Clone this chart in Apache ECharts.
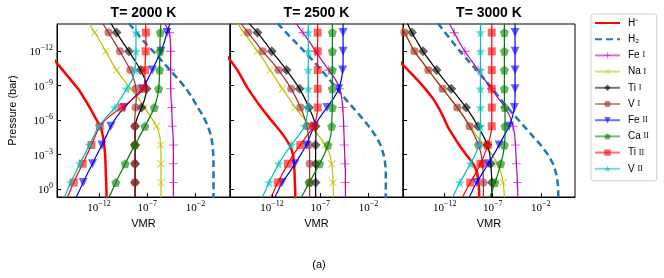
<!DOCTYPE html>
<html>
<head>
<meta charset="utf-8">
<script src="https://cdn.jsdelivr.net/npm/echarts@6/dist/echarts.min.js"></script>
<style>
  html, body { margin: 0; padding: 0; background: #fff; }
  #chart { width: 664px; height: 278px; }
</style>
</head>
<body>
<div id="chart"></div>
<script>
// pressure grid, log10(bar); markers on every other level
const LOG_P = [-14.42, -13.6, -12.79, -11.97, -11.16, -10.34, -9.53, -8.71, -7.9, -7.08,
  -6.27, -5.45, -4.64, -3.82, -3.01, -2.19, -1.38, -0.56, 0.26, 1.07];
const MARKED = [0, 1, 0, 1, 0, 1, 0, 1, 0, 1, 0, 1, 0, 1, 0, 1, 0, 1, 0, 0];

const TEMPS = ['T= 2000 K', 'T= 2500 K', 'T= 3000 K'];
const X_TICKS = [-12, -7, -2];
const Y_TICKS = [-12, -9, -6, -3, 0];
const SPECIES = ['H-', 'H2', 'Fe I', 'Na I', 'Ti I', 'V I', 'Fe II', 'Ca II', 'Ti II', 'V II'];

// log10 VMR per species, T = 2000 K
const HM_2000 = [-19.8, -18.94, -18.14, -17.34, -16.55, -15.75, -14.96, -14.16, -13.54, -12.95, -12.43, -11.88, -11.6, -11.46, -11.36, -11.32, -11.29, -11.25, -11.22, -11.22];
const H2_2000 = [-8.9, -8.1, -7.31, -6.38, -5.51, -4.64, -3.78, -2.98, -2.33, -1.77, -1.18, -0.73, -0.42, -0.25, -0.18, -0.15, -0.15, -0.15, -0.15, -0.15];
const FE1_2000 = [-5.23, -4.71, -4.61, -4.58, -4.58, -4.58, -4.58, -4.58, -4.54, -4.47, -4.44, -4.4, -4.33, -4.3, -4.3, -4.3, -4.3, -4.3, -4.3, -4.3];
const NA1_2000 = [-13.02, -12.43, -11.84, -11.29, -10.77, -10.18, -9.49, -8.69, -7.93, -7.31, -6.65, -6.03, -5.72, -5.61, -5.58, -5.58, -5.58, -5.58, -5.58, -5.58];
const TI1_2000 = [-10.77, -10.18, -9.56, -8.9, -8.28, -7.69, -7.24, -7.07, -7.24, -7.59, -8.0, -8.25, -8.25, -8.25, -8.25, -8.25, -8.25, -8.25, -8.25, -8.25];
const V1_2000 = [-11.63, -11.01, -10.42, -9.83, -9.28, -8.76, -8.38, -8.17, -8.14, -8.21, -8.28, -8.3, -8.3, -8.3, -8.3, -8.3, -8.3, -8.3, -8.3, -8.3];
const FE2_2000 = [-4.64, -4.96, -5.23, -5.58, -6.03, -6.48, -6.96, -7.52, -8.45, -9.4, -10.16, -10.77, -11.22, -11.7, -12.19, -12.67, -13.16, -13.64, -14.09, -14.58];
const CA2_2000 = [-5.58, -5.65, -5.68, -5.68, -5.72, -5.72, -5.75, -5.82, -5.99, -6.27, -6.72, -7.24, -7.76, -8.28, -8.8, -9.28, -9.77, -10.25, -10.7, -11.18];
const TI2_2000 = [-7.17, -7.14, -7.14, -7.17, -7.21, -7.24, -7.27, -7.41, -8.38, -9.66, -10.98, -11.91, -12.36, -12.78, -13.23, -13.68, -14.16, -14.61, -15.03, -15.44];
const V2_2000 = [-8.17, -8.17, -8.17, -8.17, -8.21, -8.28, -8.55, -9.14, -9.73, -10.35, -11.22, -12.01, -12.5, -12.98, -13.47, -13.99, -14.44, -14.92, -15.34, -15.75];

// T = 2500 K
const HM_2500 = [-19.73, -18.87, -18.0, -17.14, -16.27, -15.58, -15.03, -14.47, -13.81, -13.12, -12.36, -11.56, -10.8, -10.18, -9.83, -9.73, -9.66, -9.63, -9.59, -9.59];
const H2_2500 = [-11.43, -10.53, -9.59, -8.66, -7.76, -6.89, -6.06, -5.27, -4.47, -3.61, -2.78, -1.98, -1.29, -0.77, -0.46, -0.28, -0.22, -0.22, -0.22, -0.22];
const FE1_2500 = [-9.52, -8.8, -8.1, -7.48, -6.82, -6.13, -5.44, -4.99, -4.78, -4.68, -4.61, -4.58, -4.54, -4.51, -4.47, -4.44, -4.4, -4.4, -4.4, -4.4];
const NA1_2500 = [-15.58, -14.89, -14.19, -13.5, -12.81, -12.19, -11.56, -10.91, -10.25, -9.59, -8.8, -7.97, -7.17, -6.48, -6.03, -5.82, -5.72, -5.68, -5.65, -5.65];
const TI1_2500 = [-14.4, -13.5, -12.74, -12.02, -11.25, -10.49, -9.8, -9.14, -8.62, -8.17, -7.76, -7.48, -7.45, -7.48, -7.48, -7.48, -7.48, -7.48, -7.48, -7.48];
const V1_2500 = [-15.23, -14.47, -13.71, -12.95, -12.12, -11.32, -10.63, -10.01, -9.49, -9.04, -8.66, -8.38, -8.24, -8.17, -8.1, -8.1, -8.1, -8.1, -8.1, -8.1];
const FE2_2500 = [-4.64, -4.64, -4.64, -4.64, -4.64, -4.68, -4.82, -5.09, -5.61, -6.31, -7.0, -7.62, -8.04, -8.45, -9.0, -9.63, -10.25, -10.94, -11.43, -11.91];
const CA2_2500 = [-5.75, -5.75, -5.75, -5.75, -5.75, -5.75, -5.75, -5.75, -5.75, -5.75, -5.79, -5.82, -5.92, -6.2, -6.58, -7.07, -7.59, -8.14, -8.66, -9.18];
const TI2_2500 = [-7.27, -7.27, -7.27, -7.27, -7.27, -7.27, -7.27, -7.27, -7.27, -7.27, -7.38, -7.69, -8.38, -9.07, -9.77, -10.35, -10.87, -11.39, -11.84, -12.33];
const V2_2500 = [-8.24, -8.24, -8.24, -8.24, -8.24, -8.24, -8.24, -8.24, -8.24, -8.28, -8.38, -8.62, -9.25, -10.01, -10.7, -11.29, -11.81, -12.29, -12.74, -13.23];

// T = 3000 K
const HM_3000 = [-20.08, -19.25, -18.42, -17.59, -16.76, -15.82, -14.89, -14.02, -13.26, -12.64, -12.15, -11.7, -11.12, -10.49, -9.8, -9.04, -8.62, -8.49, -8.42, -8.42];
const H2_3000 = [-12.71, -11.95, -11.18, -10.39, -9.56, -8.69, -7.86, -7.03, -6.27, -5.47, -4.61, -3.74, -2.88, -2.01, -1.29, -0.73, -0.42, -0.25, -0.18, -0.18];
const FE1_3000 = [-11.53, -11.01, -10.49, -9.9, -9.21, -8.52, -7.86, -7.17, -6.44, -5.72, -5.2, -4.89, -4.71, -4.64, -4.58, -4.54, -4.47, -4.44, -4.4, -4.4];
const NA1_3000 = [-16.55, -16.13, -15.65, -15.13, -14.4, -13.68, -12.95, -12.19, -11.43, -10.67, -9.97, -9.35, -8.69, -7.9, -7.1, -6.51, -6.13, -5.92, -5.82, -5.79];
const TI1_3000 = [-15.89, -15.41, -14.85, -14.26, -13.57, -12.85, -12.12, -11.32, -10.53, -9.77, -9.11, -8.55, -8.0, -7.55, -7.31, -7.21, -7.14, -7.1, -7.1, -7.1];
const V1_3000 = [-16.62, -16.2, -15.68, -15.16, -14.44, -13.71, -12.98, -12.22, -11.46, -10.7, -10.01, -9.42, -8.9, -8.49, -8.21, -8.07, -8.0, -7.97, -7.97, -7.97];
const FE2_3000 = [-4.68, -4.68, -4.68, -4.68, -4.68, -4.68, -4.68, -4.68, -4.68, -4.75, -4.96, -5.3, -5.82, -6.34, -6.89, -7.48, -8.07, -8.69, -9.18, -9.66];
const CA2_3000 = [-5.79, -5.79, -5.79, -5.79, -5.79, -5.79, -5.79, -5.79, -5.79, -5.75, -5.72, -5.72, -5.72, -5.79, -5.92, -6.17, -6.44, -6.76, -7.1, -7.45];
const TI2_3000 = [-7.1, -7.1, -7.1, -7.1, -7.1, -7.1, -7.1, -7.1, -7.1, -7.1, -7.1, -7.1, -7.24, -7.52, -7.86, -8.28, -8.76, -9.35, -9.87, -10.39];
const V2_3000 = [-8.28, -8.28, -8.28, -8.28, -8.28, -8.28, -8.28, -8.28, -8.28, -8.28, -8.28, -8.28, -8.31, -8.45, -8.8, -9.32, -9.87, -10.42, -10.91, -11.39];

const PANEL_DATA = [
  [HM_2000, H2_2000, FE1_2000, NA1_2000, TI1_2000, V1_2000, FE2_2000, CA2_2000, TI2_2000, V2_2000],
  [HM_2500, H2_2500, FE1_2500, NA1_2500, TI1_2500, V1_2500, FE2_2500, CA2_2500, TI2_2500, V2_2500],
  [HM_3000, H2_3000, FE1_3000, NA1_3000, TI1_3000, V1_3000, FE2_3000, CA2_3000, TI2_3000, V2_3000]
];

// marker shapes
const PLUS = 'path://M4.4,0 H5.6 V4.4 H10 V5.6 H5.6 V10 H4.4 V5.6 H0 V4.4 H4.4 Z';
const PENTAGON = 'path://M5,0 L9.76,3.45 L7.94,9.05 L2.06,9.05 L0.24,3.45 Z';
const STAR = 'path://M5,0 L6.18,3.38 L9.76,3.45 L6.9,5.62 L7.94,9.05 L5,7 L2.06,9.05 L3.1,5.62 L0.24,3.45 L3.82,3.38 Z';

const STYLES = {
  'H-':    { color: '#ff0000', width: 2.5, symbol: 'none' },
  'H2':    { color: '#1f77b4', width: 2.5, symbol: 'none', dash: [7, 4] },
  'Fe I':  { color: '#bf00bf', width: 1.2, symbol: PLUS, size: 9 },
  'Na I':  { color: '#bfbf00', width: 1.2, symbol: PLUS, size: 10, rotate: 45 },
  'Ti I':  { color: '#000000', width: 1.2, symbol: 'diamond', size: 10 },
  'V I':   { color: '#a52a2a', width: 1.2, symbol: 'circle', size: 8 },
  'Fe II': { color: '#0000ff', width: 1.2, symbol: 'triangle', size: 9, rotate: 180 },
  'Ca II': { color: '#008000', width: 1.2, symbol: PENTAGON, size: 9 },
  'Ti II': { color: '#ff0000', width: 1.2, symbol: 'rect', size: 8 },
  'V II':  { color: '#00bfbf', width: 1.2, symbol: STAR, size: 10 }
};

const PANELS = [
  { left: 57, width: 173 },
  { left: 230, width: 173 },
  { left: 403, width: 172 }
];
const TOP = 24, HEIGHT = 173;

const chart = echarts.init(document.getElementById('chart'), null, { renderer: 'canvas' });

function pow10(v) {
  const e = v < 0 ? '\u2212' + (-v) : String(v);
  return '{b|10}{s|' + e + '}';
}
const tickRich = {
  b: { fontFamily: 'Liberation Serif', fontSize: 11, lineHeight: 14, verticalAlign: 'bottom', color: '#000' },
  s: { fontFamily: 'Liberation Serif', fontSize: 8, lineHeight: 4, verticalAlign: 'top', color: '#000' }
};

const grids = [], xAxes = [], yAxes = [], series = [];
PANELS.forEach(function (p, i) {
  grids.push({
    left: p.left, top: TOP, width: p.width, height: HEIGHT,
    show: true, borderColor: '#000', borderWidth: 1, containLabel: false
  });
  xAxes.push({
    gridIndex: i, type: 'value', min: -16.34, max: 1.56,
    axisLine: { show: true, onZero: false, lineStyle: { color: '#000', width: 1 } },
    axisTick: { show: true, inside: true, length: 4, customValues: X_TICKS, lineStyle: { color: '#000' } },
    axisLabel: { customValues: X_TICKS, formatter: pow10, rich: tickRich, margin: 3 },
    splitLine: { show: false },
    name: 'VMR', nameLocation: 'middle', nameGap: 21,
    nameTextStyle: { fontFamily: 'Liberation Sans', fontSize: 11, color: '#000' }
  });
  yAxes.push({
    gridIndex: i, type: 'value', inverse: true, min: -14.35, max: 0.7,
    axisLine: { show: true, onZero: false, lineStyle: { color: '#000', width: 1 } },
    axisTick: { show: true, inside: true, length: 4, customValues: Y_TICKS, lineStyle: { color: '#000' } },
    axisLabel: { show: i === 0, customValues: Y_TICKS, formatter: pow10, rich: tickRich, margin: 4 },
    splitLine: { show: false },
    name: i === 0 ? 'Pressure (bar)' : '', nameLocation: 'middle', nameGap: 39,
    nameTextStyle: { fontFamily: 'Liberation Sans', fontSize: 11, color: '#000' }
  });
  PANEL_DATA[i].forEach(function (vals, k) {
    const name = SPECIES[k];
    const st = STYLES[name];
    const data = LOG_P.map(function (lp, j) {
      const item = { value: [vals[j], lp] };
      if (!MARKED[j]) item.symbol = 'none';
      return item;
    });
    series.push({
      type: 'line', name: name, xAxisIndex: i, yAxisIndex: i,
      data: data,
      smooth: 0.3,
      symbol: st.symbol, symbolSize: st.size || 0, symbolRotate: st.rotate || 0,
      showAllSymbol: true,
      lineStyle: { color: st.color, width: st.width, type: st.dash || 'solid' },
      itemStyle: { color: st.color, opacity: 0.6 },
      emphasis: { disabled: true },
      silent: true,
      z: 2 + k * 0.01
    });
  });
});

const legendRich = {
  a: { fontFamily: 'Liberation Sans', fontSize: 10, lineHeight: 12, color: '#000' },
  r: { fontFamily: 'Liberation Serif', fontSize: 8, lineHeight: 12, color: '#000' }
};
const LEGEND_LABEL = {
  'H-': '{a|H\u207B}', 'H2': '{a|H\u2082}',
  'Fe I': '{a|Fe }{r|I}', 'Na I': '{a|Na }{r|I}', 'Ti I': '{a|Ti }{r|I}', 'V I': '{a|V }{r|I}',
  'Fe II': '{a|Fe }{r|II}', 'Ca II': '{a|Ca }{r|II}', 'Ti II': '{a|Ti }{r|II}', 'V II': '{a|V }{r|II}'
};

const option = {
  backgroundColor: '#fff',
  animation: false,
  grid: grids,
  xAxis: xAxes,
  yAxis: yAxes,
  series: series,
  legend: {
    orient: 'vertical', left: 591, top: 14,
    padding: [3, 8, 6, 3],
    itemWidth: 25, itemHeight: 8, itemGap: 4.2,
    borderColor: '#cccccc', borderWidth: 1, borderRadius: 3,
    selectedMode: false,
    data: SPECIES.map(function (n, k) {
      const d = { name: n };
      if (k < 2) d.itemStyle = { opacity: 0 };
      else d.lineStyle = { opacity: 0.55 };
      return d;
    }),
    formatter: function (n) { return LEGEND_LABEL[n]; },
    textStyle: { rich: legendRich, lineHeight: 12, padding: [0, 0, 0, 3] }
  },
  graphic: TEMPS.map(function (t, i) {
    return {
      type: 'text', x: PANELS[i].left + PANELS[i].width / 2, y: 13,
      style: { text: t, font: 'bold 14px "Liberation Sans"', fill: '#000', textAlign: 'center', textVerticalAlign: 'middle' }
    };
  }).concat([{
    type: 'text', x: 319, y: 265,
    style: { text: '(a)', font: '11px "Liberation Sans"', fill: '#000', textAlign: 'center', textVerticalAlign: 'middle' }
  }])
};

chart.setOption(option);
</script>
</body>
</html>
